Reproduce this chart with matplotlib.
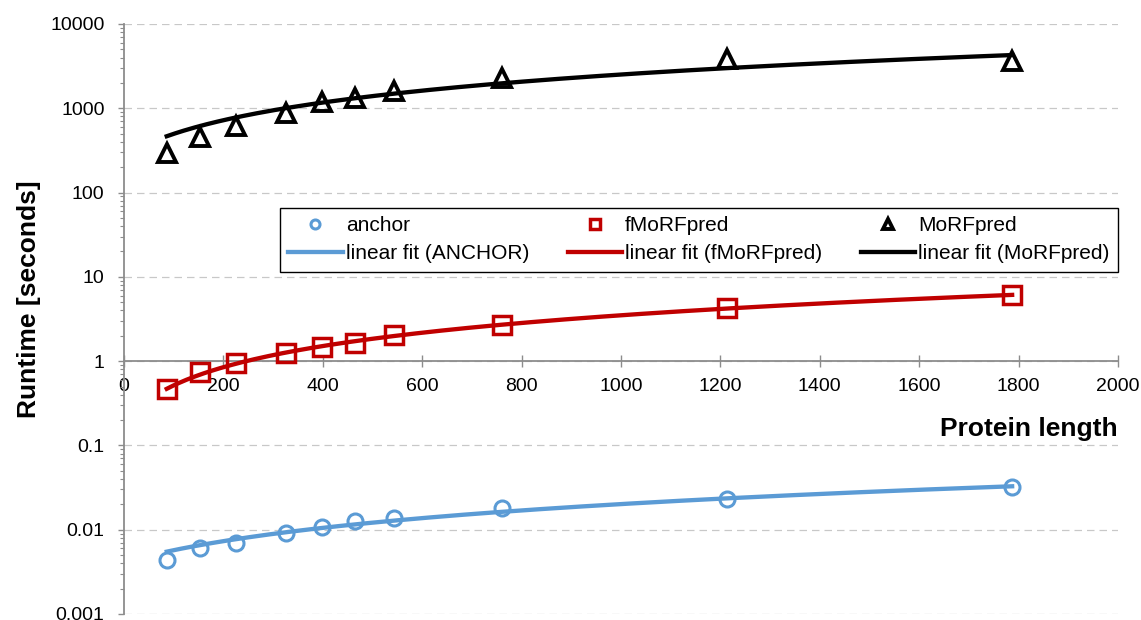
import numpy as np
import matplotlib
matplotlib.use("Agg")
import matplotlib.pyplot as plt
from matplotlib.ticker import FixedLocator, FuncFormatter, LogLocator, NullFormatter

plt.rcParams['font.family'] = ['Liberation Sans', 'DejaVu Sans']

# protein lengths of the test set
length = np.array([86, 152, 226, 326, 398, 464, 544, 760, 1213, 1787])

# runtimes in seconds
anchor = np.array([0.0044, 0.0061, 0.0069, 0.0091, 0.0107, 0.0126, 0.0137, 0.018, 0.0231, 0.032])
fmorfpred = np.array([0.47, 0.75, 0.94, 1.24, 1.49, 1.64, 2.02, 2.70, 4.25, 6.1])
morfpred = np.array([293, 461, 617, 887, 1197, 1314, 1589, 2290, 3845, 3600])

series = [
    ("anchor", "linear fit (ANCHOR)", anchor, "#5B9BD5", "o", 10.8, 2.2),
    ("fMoRFpred", "linear fit (fMoRFpred)", fmorfpred, "#C00000", "s", 12.5, 2.5),
    ("MoRFpred", "linear fit (MoRFpred)", morfpred, "#000000", "^", 12.5, 2.8),
]

fig = plt.figure(figsize=(11.41, 6.2), dpi=100)
ax = fig.add_axes([124 / 1141, 6 / 620, 994 / 1141, 590 / 620])

handles = []
xs = np.linspace(length.min(), length.max(), 300)
for name, fitname, y, col, mk, ms, mew in series:
    # plain least-squares line, drawn on the log axis
    a, b = np.polyfit(length, y, 1)
    fl, = ax.plot(xs, a * xs + b, color=col, lw=3.1, label=fitname, zorder=3)
    pt, = ax.plot(length, y, ls="none", marker=mk, ms=ms, mew=mew,
                  mec=col, mfc="none", label=name, zorder=4)
    handles += [pt, fl]

ax.set_yscale("log")
ax.set_xlim(0, 2000)
ax.set_ylim(0.001, 10000)

ax.spines['top'].set_visible(False)
ax.spines['right'].set_visible(False)
ax.spines['bottom'].set_position(('data', 1))
for s in ['bottom', 'left']:
    ax.spines[s].set_color("#8c8c8c")
    ax.spines[s].set_linewidth(1.3)
ax.spines['bottom'].set_zorder(2)

ax.set_xticks(np.arange(0, 2001, 200))
ax.tick_params(axis='x', direction='inout', length=8, width=1, color="#8c8c8c",
               labelsize=14, pad=8)
ax.yaxis.set_major_locator(FixedLocator([10.0 ** k for k in range(-3, 5)]))
ax.yaxis.set_major_formatter(FuncFormatter(lambda v, p: "{:g}".format(v)))
ax.yaxis.set_minor_locator(LogLocator(base=10, subs=np.arange(2, 10), numticks=20))
ax.yaxis.set_minor_formatter(NullFormatter())
ax.tick_params(axis='y', which='major', direction='out', length=4, width=1,
               color="#8c8c8c", labelsize=14, pad=10)
ax.tick_params(axis='y', which='minor', direction='out', length=3, width=0.8,
               color="#8c8c8c")

ax.yaxis.grid(True, which='major', color="#c8c8c8", lw=0.9, ls=(0, (6, 4)))
ax.set_axisbelow(True)

ax.set_xlabel("Protein length", fontsize=19, fontweight="bold", loc="right", labelpad=16)
ax.set_ylabel("Runtime [seconds]", fontsize=19, fontweight="bold")
ax.yaxis.set_label_coords(-0.084, 0.534)

leg = ax.legend(handles=handles, ncol=3, loc="lower left",
                bbox_to_anchor=(0.157, 0.58, 0.843, 0.117), mode="expand",
                fontsize=15, markerscale=0.6, handlelength=2.6, handletextpad=0.15,
                labelspacing=0.45, borderaxespad=0, fancybox=False,
                framealpha=1, edgecolor="black", borderpad=0.4)
leg.get_frame().set_linewidth(1.0)

fig.savefig("out.png", dpi=100)
